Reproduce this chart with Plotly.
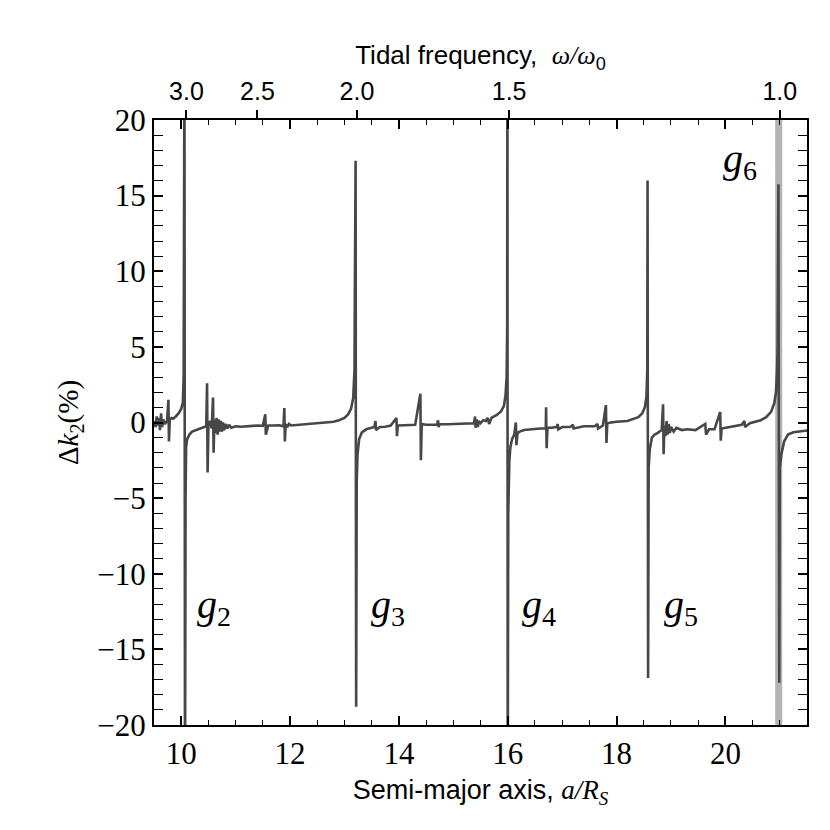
import plotly.graph_objects as go

# Semi-major axis a/R_S and the change of k2 in percent
semi_major = [
    9.50, 9.53, 9.55, 9.57, 9.59, 9.61, 9.63, 9.65, 9.67, 9.70, 9.74, 9.765, 9.775, 9.79,
    9.82, 9.85, 9.90, 9.95, 10.00, 10.03, 10.045, 10.05, 10.06, 10.065, 10.07, 10.08, 10.09,
    10.11, 10.15, 10.20, 10.30, 10.40, 10.46, 10.475, 10.485, 10.50, 10.53, 10.56, 10.585,
    10.595, 10.61, 10.63, 10.65, 10.67, 10.69, 10.71, 10.73, 10.75, 10.77, 10.79, 10.82,
    10.85, 10.88, 10.92, 11.00, 11.10, 11.20, 11.30, 11.40, 11.50, 11.545, 11.555, 11.60,
    11.70, 11.80, 11.88, 11.895, 11.905, 11.92, 11.95, 11.98, 12.02, 12.20, 12.40, 12.60,
    12.80, 12.90, 13.00, 13.07, 13.12, 13.16, 13.185, 13.19, 13.205, 13.21, 13.215, 13.225,
    13.24, 13.27, 13.32, 13.40, 13.50, 13.55, 13.57, 13.58, 13.65, 13.75, 13.85, 13.955,
    13.965, 13.98, 14.10, 14.20, 14.30, 14.395, 14.405, 14.42, 14.50, 14.70, 14.72, 14.73,
    14.75, 14.90, 15.10, 15.30, 15.38, 15.40, 15.41, 15.43, 15.45, 15.47, 15.50, 15.55,
    15.60, 15.63, 15.66, 15.70, 15.80, 15.88, 15.93, 15.96, 15.98, 15.99, 15.995, 16.00,
    16.01, 16.03, 16.05, 16.08, 16.12, 16.15, 16.16, 16.18, 16.22, 16.30, 16.40, 16.50,
    16.60, 16.70, 16.705, 16.715, 16.73, 16.80, 16.90, 16.92, 16.93, 17.00, 17.15, 17.20,
    17.21, 17.40, 17.60, 17.65, 17.66, 17.75, 17.805, 17.815, 17.83, 17.90, 18.00, 18.20,
    18.30, 18.40, 18.47, 18.52, 18.55, 18.565, 18.57, 18.58, 18.59, 18.61, 18.65, 18.70,
    18.75, 18.83, 18.855, 18.865, 18.88, 18.90, 18.92, 18.94, 18.96, 18.98, 19.00, 19.05,
    19.10, 19.20, 19.30, 19.45, 19.63, 19.645, 19.70, 19.80, 19.905, 19.915, 19.93, 20.00,
    20.10, 20.20, 20.30, 20.35, 20.36, 20.45, 20.55, 20.65, 20.75, 20.84, 20.90, 20.93,
    20.95, 20.96, 20.975, 20.98, 20.99, 21.00, 21.03, 21.08, 21.15, 21.25, 21.40, 21.55,
]
delta_k2 = [
    0.1, -0.3, 0.4, -0.2, 0.3, -0.5, 0.6, -0.3, 0.2, -0.1, 0.1, 1.5, -1.25, 0.2,
    0.3, 0.25, 0.4, 0.6, 0.9, 1.3, 3.0, 9.8, 25.0, -3.8, -25.0, -5.0, -1.6,
    -1.1, -0.8, -0.6, -0.45, -0.3, -0.25, 2.6, -3.3, -0.2, 0.1, -0.4, 1.65,
    -2.0, 0.2, -0.7, 0.3, -0.8, 0.2, -0.6, 0.1, -0.6, 0.0, -0.5, -0.1,
    -0.4, -0.15, -0.35, -0.25, -0.28, -0.25, -0.22, -0.2, -0.22, 0.55, -0.8, -0.2,
    -0.2, -0.18, -0.25, 0.95, -1.25, -0.1, -0.3, -0.1, -0.2, -0.15, -0.1, -0.05,
    0.05, 0.15, 0.3, 0.55, 0.9, 1.6, 3.5, 7.9, 17.3, -4.3, -18.8, -4.0,
    -2.1, -1.1, -0.65, -0.45, -0.35, -0.3, 0.1, -0.5, -0.3, -0.28, -0.2, 0.3,
    -0.9, -0.2, -0.18, -0.15, -0.15, 1.9, -2.5, -0.1, -0.15, -0.15, 0.15, -0.3,
    -0.1, -0.12, -0.1, -0.05, -0.05, 0.4, -0.35, 0.2, -0.3, 0.1, -0.05, 0.15,
    0.1, 0.3, -0.1, 0.3, 0.5, 0.75, 1.1, 1.8, 3.0, 6.0, 25.0, -25.0,
    -6.0, -2.5, -1.6, -1.1, -0.8, 0.0, -1.5, -0.7, -0.6, -0.5, -0.45, -0.42,
    -0.4, -0.4, 1.0, -1.7, -0.35, -0.35, -0.3, -0.1, -0.45, -0.3, -0.3, -0.15,
    -0.4, -0.25, -0.25, -0.1, -0.4, -0.2, 1.15, -1.35, -0.05, 0.0, 0.05, 0.1,
    0.2, 0.35, 0.6, 1.0, 1.7, 3.5, 16.0, -16.9, -3.0, -1.8, -1.0, -0.8,
    -0.7, -0.5, 1.2, -2.1, -0.2, -0.9, 0.1, -0.8, -0.1, -0.7, -0.3, -0.6,
    -0.35, -0.5, -0.45, -0.5, -0.1, -0.8, -0.45, -0.45, 0.7, -1.2, -0.4, -0.35,
    -0.3, -0.25, -0.15, 0.1, -0.3, -0.05, 0.05, 0.15, 0.35, 0.7, 1.3, 2.0,
    3.5, 5.0, 15.75, 1.2, -17.2, -3.0, -2.1, -1.25, -0.8, -0.65, -0.55, -0.5,
]

# mode labels and where they sit (a/R_S, dk2)
mode_names = ["2", "3", "4", "5", "6"]
mode_x = [10.6, 13.8, 16.57, 19.19, 20.26]
mode_y = [-12.2, -12.2, -12.2, -12.2, 17.3]

# top axis: tidal frequency, omega/omega0 = (a / a0)^(-3/2)
a0 = 21.0
top_freqs = [3.0, 2.5, 2.0, 1.5, 1.0]
top_labels = ["3.0", "2.5", "2.0", "1.5", "1.0"]
top_positions = [a0 * f ** (-2.0 / 3.0) for f in top_freqs]

SERIF = "Liberation Serif, DejaVu Serif, serif"
SANS = "Liberation Sans, Arial, sans-serif"

fig = go.Figure()

# corotation band around omega = omega0
fig.add_shape(type="rect", xref="x", yref="paper", x0=20.915, x1=21.045, y0=0, y1=1,
              fillcolor="#b4b4b4", line_width=0, layer="below")

fig.add_trace(go.Scatter(
    x=semi_major, y=delta_k2, mode="lines",
    line=dict(color="#474747", width=2.6),
    showlegend=False, hoverinfo="skip",
))

# invisible trace so the top axis gets drawn
fig.add_trace(go.Scatter(x=top_positions, y=[0] * len(top_positions), xaxis="x2",
                         mode="markers", marker=dict(opacity=0), showlegend=False,
                         hoverinfo="skip"))

for name, mx, my in zip(mode_names, mode_x, mode_y):
    fig.add_annotation(x=mx, y=my, xref="x", yref="y", showarrow=False,
                       text=f"<i>g</i><sub>{name}</sub>",
                       font=dict(family=SERIF, size=40, color="black"))

axis_common = dict(
    showline=True, linecolor="black", linewidth=2, mirror="allticks",
    ticks="inside", tickcolor="black", tickwidth=1.5, ticklen=9,
    showgrid=False, zeroline=False,
    tickfont=dict(family=SERIF, size=31, color="black"),
)

fig.update_layout(
    width=830, height=830,
    margin=dict(l=146, r=31, t=112, b=113),
    plot_bgcolor="white", paper_bgcolor="white",
    xaxis=dict(
        range=[9.5, 21.5], dtick=2, tick0=0,
        minor=dict(dtick=0.5, ticks="inside", ticklen=5, tickcolor="black", tickwidth=1.2),
        title=dict(text="Semi-major axis, <i><span style='font-family:Liberation Serif'>a/R<sub>S</sub></span></i>",
                   font=dict(family=SANS, size=27, color="black"), standoff=10),
        **axis_common,
    ),
    yaxis=dict(
        range=[-20, 20], dtick=5,
        minor=dict(dtick=1, ticks="inside", ticklen=5, tickcolor="black", tickwidth=1.2),
        title=dict(text="Δ<i>k</i><sub>2</sub>(%)",
                   font=dict(family=SERIF, size=29, color="black"), standoff=10),
        **axis_common,
    ),
    xaxis2=dict(
        overlaying="x", side="top", anchor="y", range=[9.5, 21.5],
        tickvals=top_positions, ticktext=top_labels,
        ticks="outside", ticklen=9, tickwidth=1.5, tickcolor="black",
        showline=False, showgrid=False, zeroline=False,
        tickfont=dict(family=SANS, size=25, color="black"),
        title=dict(text="Tidal frequency,  <i><span style='font-family:Liberation Serif'>ω/ω</span></i><sub>0</sub>",
                   font=dict(family=SANS, size=26, color="black"), standoff=4),
    ),
)

fig.write_html("out.html")
